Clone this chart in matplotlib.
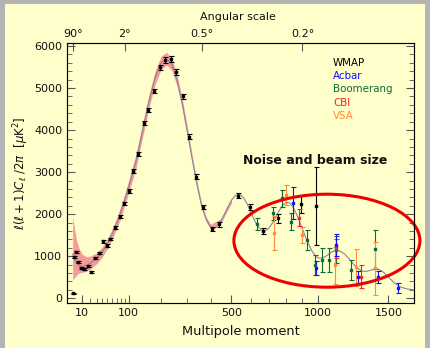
import numpy as np
import matplotlib
matplotlib.use('Agg')
import matplotlib.pyplot as plt
from matplotlib.patches import Ellipse, Rectangle
from matplotlib.ticker import FixedLocator, MultipleLocator

# theory curve (multipole, l(l+1)Cl/2pi)
theory_l = [2, 3, 4, 5, 7, 10, 15, 20, 30, 40, 50, 60, 70, 80, 90, 100, 120, 140, 160, 180,
            200, 220, 240, 260, 280, 300, 320, 340, 360, 380, 400, 420, 440, 460, 480, 500,
            520, 540, 560, 580, 600, 620, 640, 660, 680, 700, 720, 740, 760, 780, 800, 820,
            840, 860, 880, 900, 920, 940, 960, 980, 1000, 1030, 1060, 1090, 1120, 1150, 1180,
            1210, 1240, 1270, 1300, 1330, 1360, 1390, 1420, 1450, 1480, 1510, 1540, 1570,
            1600, 1650, 1700]
theory_D = [1050, 950, 880, 830, 780, 760, 780, 830, 950, 1100, 1300, 1520, 1780, 2050, 2350,
            2650, 3250, 4000, 4700, 5250, 5600, 5700, 5550, 5150, 4600, 3950, 3300, 2700, 2200,
            1880, 1700, 1660, 1760, 1950, 2150, 2330, 2450, 2480, 2400, 2250, 2050, 1850, 1700,
            1620, 1610, 1670, 1790, 1940, 2090, 2210, 2280, 2270, 2180, 2030, 1850, 1650, 1450,
            1280, 1130, 1020, 960, 960, 1020, 1100, 1140, 1120, 1050, 940, 820, 720, 650, 640,
            660, 690, 690, 650, 570, 470, 380, 310, 260, 220, 200]

# cosmic variance band
band_l = [2, 3, 4, 5, 7, 10, 15, 20, 30, 40, 50, 60, 70, 80, 90, 100, 120, 140, 160, 180,
          200, 220, 240, 260, 280, 300, 320, 340, 360, 380, 400, 450, 500]
band_hi = [1950, 1700, 1500, 1350, 1180, 1050, 990, 1000, 1080, 1220, 1420, 1650, 1910, 2190,
           2490, 2800, 3420, 4160, 4860, 5410, 5760, 5850, 5690, 5280, 4720, 4060, 3390, 2780,
           2270, 1940, 1760, 1900, 2390]
band_lo = [440, 480, 520, 560, 600, 620, 640, 690, 820, 980, 1180, 1400, 1650, 1910, 2210,
           2500, 3080, 3840, 4540, 5090, 5440, 5550, 5410, 5020, 4480, 3840, 3210, 2620, 2130,
           1820, 1640, 1800, 2270]

# WMAP
wmap_l = [2, 3, 4, 6, 9, 12, 17, 22, 27, 35, 41, 49, 56, 66, 77, 88, 100, 112, 126, 143, 157,
          175, 195, 214, 236, 255, 282, 308, 336, 365, 405, 439, 534, 595, 664, 753, 888, 989]
wmap_D = [120, 990, 1095, 855, 713, 697, 768, 618, 951, 1077, 1355, 1250, 1410, 1680, 1940,
          2260, 2550, 3035, 3425, 4160, 4480, 4930, 5495, 5670, 5690, 5390, 4810, 3845, 2890,
          2165, 1648, 1760, 2440, 2178, 1600, 1900, 2235, 2195]
wmap_err = [15, 25, 25, 25, 25, 25, 25, 25, 25, 30, 30, 30, 30, 35, 35, 40, 40, 45, 45, 50, 50,
            55, 60, 70, 70, 70, 60, 60, 55, 50, 50, 55, 60, 70, 80, 110, 200, 930]

# Acbar
acbar_l = [842, 985, 1123, 1274, 1421, 1572]
acbar_D = [2270, 715, 1270, 515, 515, 240]
acbar_err = [380, 160, 260, 140, 140, 120]

# Boomerang
boom_l = [631, 724, 773, 827, 926, 978, 1027, 1073, 1123, 1227, 1396]
boom_D = [1760, 2020, 2380, 1820, 1385, 790, 910, 910, 1150, 675, 1165]
boom_err = [140, 160, 200, 200, 240, 240, 280, 280, 320, 240, 470]

# CBI
cbi_l = [877, 1123, 1299]
cbi_D = [1915, 1190, 515]
cbi_err = [200, 220, 280]

# VSA
vsa_l = [728, 800, 896, 1111, 1262, 1396]
vsa_D = [1560, 2455, 1505, 790, 735, 715]
vsa_err = [400, 240, 200, 440, 440, 630]

top_l = [2, 90, 360, 900]
top_labels = ['90°', '2°', '0.5°', '0.2°']


def fwd(l):
    l = np.asarray(l, dtype=float)
    return np.sign(l) * np.abs(l) ** 0.61


def inv(u):
    u = np.asarray(u, dtype=float)
    return np.sign(u) * np.abs(u) ** (1 / 0.61)


bg = '#ffffcc'
fig = plt.figure(figsize=(4.30, 3.48), dpi=100)
fig.patch.set_facecolor('#b4b4b4')
fig.add_artist(Rectangle((5 / 430, 0), 420 / 430, 344 / 348, transform=fig.transFigure,
                         facecolor=bg, edgecolor='none', zorder=-10))

ax = fig.add_axes([67 / 430, 45.3 / 348, 347 / 430, 259.4 / 348])
ax.set_facecolor(bg)
ax.set_xscale('function', functions=(fwd, inv))
ax.set_xlim(0, 1700)
ax.set_ylim(-105, 6065)

ax.fill_between(band_l, band_lo, band_hi, color='#f79a9a', lw=0, zorder=1)
ax.plot(theory_l, theory_D, color='#8a8496', lw=0.8, zorder=2)

sets = [(wmap_l, wmap_D, wmap_err, 'black'),
        (boom_l, boom_D, boom_err, '#0b6b3a'),
        (vsa_l, vsa_D, vsa_err, '#ff8c3a'),
        (cbi_l, cbi_D, cbi_err, '#ff2020'),
        (acbar_l, acbar_D, acbar_err, '#1010ff')]
for l, d, e, c in sets:
    ax.errorbar(l, d, yerr=e, fmt='s', ms=1.8, color=c, ecolor=c, elinewidth=0.8,
                capsize=1.8, capthick=0.8, zorder=3)

ax.xaxis.set_major_locator(FixedLocator([10, 100, 500, 1000, 1500]))
ax.xaxis.set_minor_locator(FixedLocator([20, 30, 40, 50, 60, 70, 80, 90, 200, 300, 400,
                                         600, 700, 800, 900]))
ax.set_xticklabels(['10', '100', '500', '1000', '1500'])
ax.yaxis.set_major_locator(MultipleLocator(1000))
ax.yaxis.set_minor_locator(MultipleLocator(200))
ax.tick_params(which='both', direction='in', top=False, right=True, colors='#555555',
               labelcolor='#111111', labelsize=8)
ax.tick_params(which='major', length=5.5, width=0.8)
ax.tick_params(which='minor', length=3.5, width=0.6)
for s in ax.spines.values():
    s.set_color('#666666')
    s.set_linewidth(0.8)

ax2 = ax.twiny()
ax2.set_xscale('function', functions=(fwd, inv))
ax2.set_xlim(0, 1700)
ax2.set_xticks(top_l, labels=top_labels)
ax2.xaxis.set_minor_locator(FixedLocator([]))
ax2.tick_params(direction='in', length=5.5, width=0.8, colors='#555555',
                labelcolor='#111111', labelsize=8, pad=3)

ax.set_xlabel('Multipole moment', fontsize=9.3, color='#111111', labelpad=5)
ax.set_ylabel(r'$\ell(\ell+1)C_\ell\ /2\pi\ \ [\mu\mathrm{K}^2]$', fontsize=8.5,
              color='#111111', labelpad=2)
fig.text(238 / 430, 1 - 17 / 348, 'Angular scale', ha='center', va='center', fontsize=8,
         color='#111111')

leg = [('WMAP', 'black'), ('Acbar', '#1010ff'), ('Boomerang', '#0b6b3a'),
       ('CBI', '#ff2020'), ('VSA', '#ff8c3a')]
for i, (name, c) in enumerate(leg):
    ax.text(0.7666, 0.925 - i * 0.0513, name, transform=ax.transAxes, color=c,
            fontsize=7.4, ha='left', va='center')

ax.text(0.7147, 0.55, 'Noise and beam size', transform=ax.transAxes, fontsize=9,
        fontweight='bold', ha='center', va='center', color='#111111')

ax.add_patch(Ellipse((0.749, 0.239), 0.536, 0.3585, transform=ax.transAxes,
                     fill=False, edgecolor='#ee0000', lw=2.2, clip_on=False, zorder=5))

fig.savefig('out.png', dpi=100, facecolor=fig.get_facecolor())
